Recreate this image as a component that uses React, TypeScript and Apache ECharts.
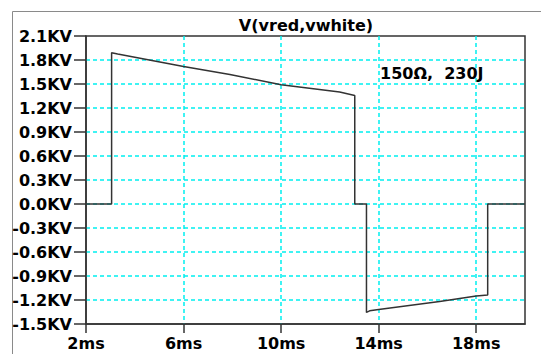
import React, { useEffect, useRef } from "react";
import * as echarts from "echarts";

// Differential voltage V(vred, vwhite) over one pulse cycle, in ms / kV
const timeMs = [2, 3.05, 3.05, 3.3, 6, 7.9, 10, 12.4, 13.02, 13.02, 13.5, 13.5, 13.63, 14, 16.5, 18, 18.47, 18.47, 20];
const voltsKV = [0, 0, 1.89, 1.875, 1.72, 1.62, 1.49, 1.4, 1.355, 0, 0, -1.355, -1.335, -1.318, -1.22, -1.15, -1.138, 0, 0];

const titleText = "V(vred,vwhite)";
const noteText = "150Ω,  230J";

const FONT = "DejaVu Sans";
const GRID_CYAN = "#00f0f0";
const INK = "#333333";

export default function App() {
  const ref = useRef<HTMLDivElement>(null);

  useEffect(() => {
    if (!ref.current) return;
    const chart = echarts.init(ref.current, undefined, { renderer: "svg" });
    const points = timeMs.map((t, i) => [t, voltsKV[i]]);

    const dashed = {
      show: true,
      showMinLine: false,
      showMaxLine: false,
      lineStyle: { color: GRID_CYAN, width: 1.5, type: [4, 3] },
    };

    chart.setOption({
      animation: false,
      backgroundColor: "#ffffff",
      grid: {
        left: 86,
        right: 16,
        top: 36,
        bottom: 30,
        show: true,
        borderColor: INK,
        borderWidth: 1.5,
        backgroundColor: "transparent",
      },
      xAxis: {
        type: "value",
        min: 2,
        max: 20,
        interval: 4,
        axisLine: { show: true, onZero: false, lineStyle: { color: INK, width: 1.5 } },
        axisTick: { show: true, length: 9, lineStyle: { color: INK, width: 1.5 } },
        axisLabel: {
          show: true,
          margin: 11,
          showMaxLabel: false,
          color: "#000",
          fontFamily: FONT,
          fontWeight: "bold",
          fontSize: 16,
          formatter: (v: number) => `${Math.round(v)}ms`,
        },
        splitLine: dashed,
      },
      yAxis: {
        type: "value",
        min: -1.5,
        max: 2.1,
        interval: 0.3,
        axisLine: { show: true, onZero: false, lineStyle: { color: INK, width: 1.5 } },
        axisTick: { show: true, length: 12, lineStyle: { color: INK, width: 1.5 } },
        axisLabel: {
          show: true,
          margin: 14,
          color: "#000",
          fontFamily: FONT,
          fontWeight: "bold",
          fontSize: 16,
          formatter: (v: number) => `${(Math.abs(v) < 1e-9 ? 0 : v).toFixed(1)}KV`,
        },
        splitLine: dashed,
      },
      series: [
        {
          type: "line",
          data: points,
          showSymbol: false,
          symbol: "none",
          lineStyle: { color: INK, width: 1.5 },
          z: 5,
        },
      ],
      graphic: [
        {
          type: "polyline",
          silent: true,
          shape: { points: [[12.5, 354], [12.5, 11.5], [541, 11.5]] },
          style: { stroke: "#8a8a8a", lineWidth: 1, fill: "none" },
        },
        {
          type: "text",
          x: 306,
          y: 25,
          style: {
            text: titleText,
            fill: "#000",
            font: `bold 16px "${FONT}"`,
            textAlign: "center",
            textVerticalAlign: "middle",
          },
        },
        {
          type: "text",
          x: 380,
          y: 73,
          z: 10,
          style: {
            text: noteText,
            fill: "#000",
            font: `bold 16px "${FONT}"`,
            textAlign: "left",
            textVerticalAlign: "middle",
          },
        },
      ],
    });

    return () => chart.dispose();
  }, []);

  return (
    <div
      ref={ref}
      style={{ position: "fixed", left: 0, top: 0, width: 541, height: 354 }}
    />
  );
}
